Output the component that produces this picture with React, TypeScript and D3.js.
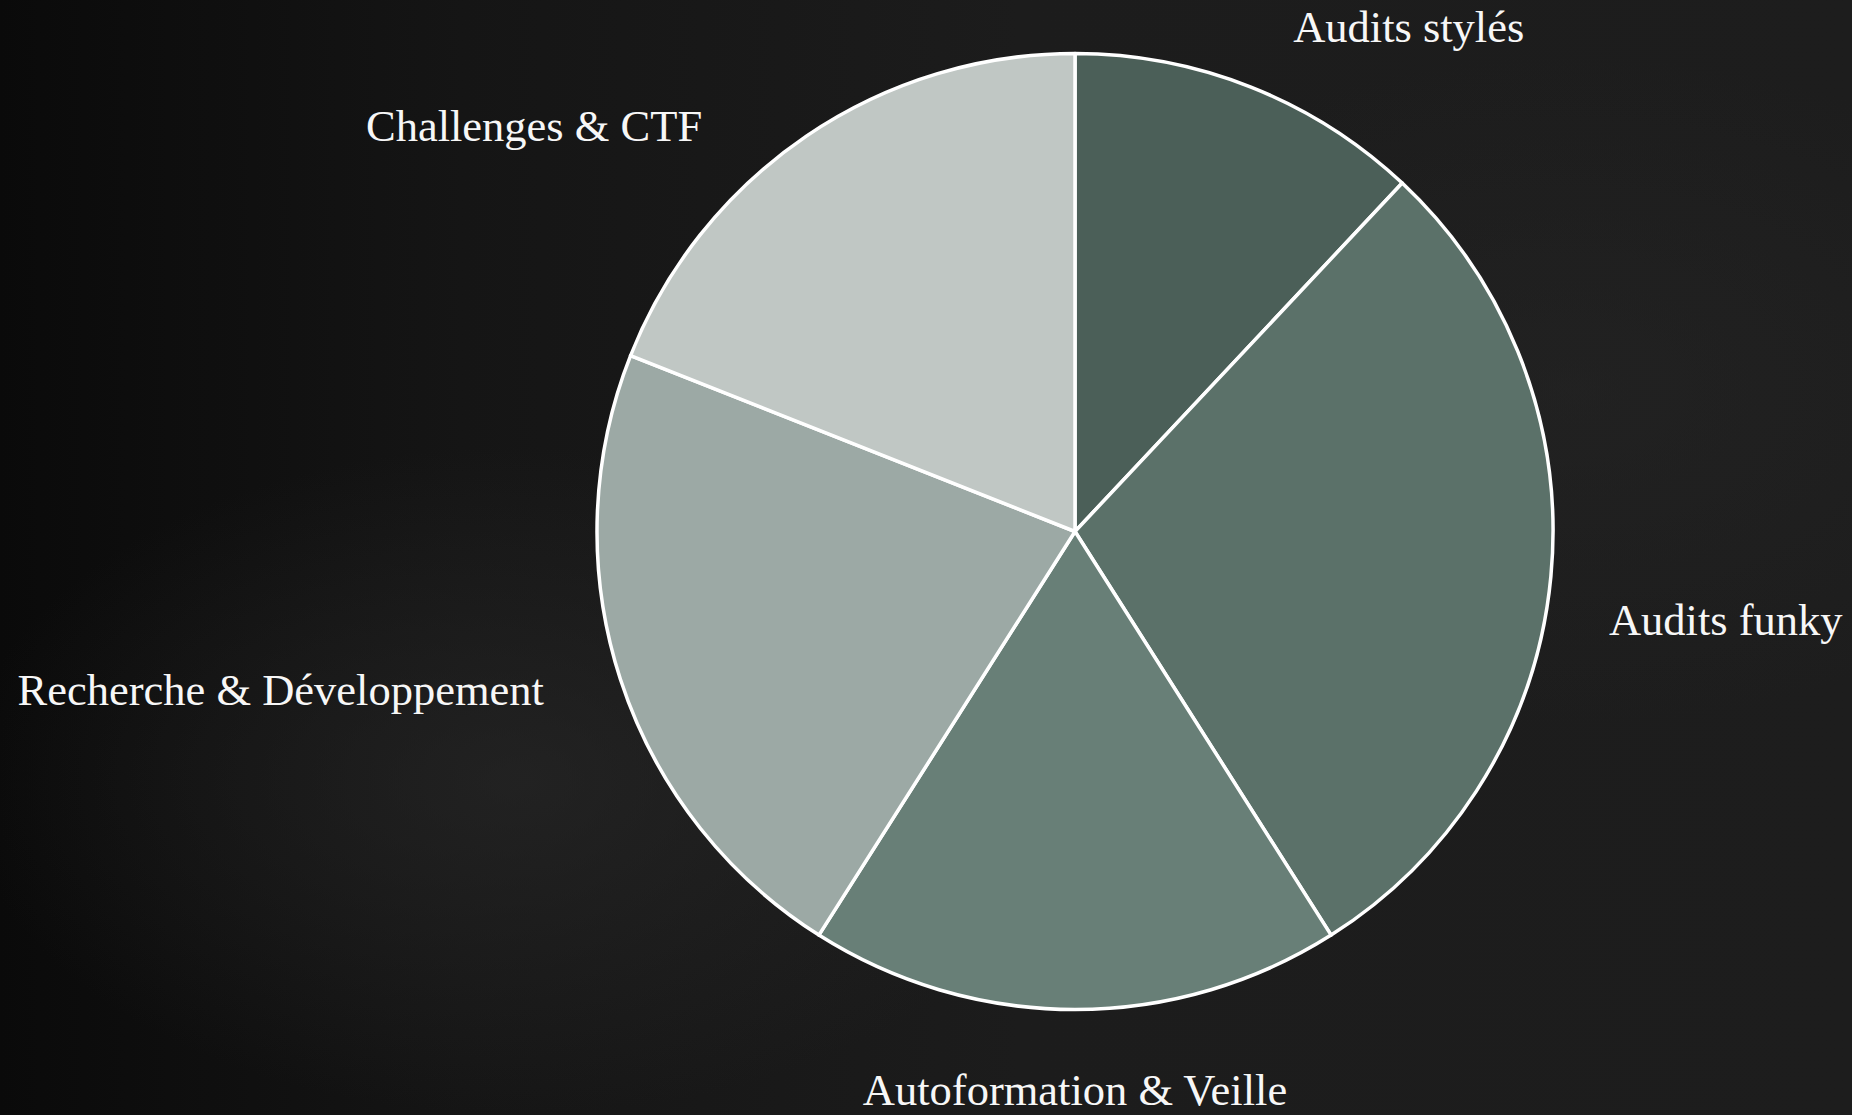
import React from "react";
import * as d3 from "d3";

const categories = [
  "Audits stylés",
  "Audits funky",
  "Autoformation & Veille",
  "Recherche & Développement",
  "Challenges & CTF",
];
const values = [12, 29, 18, 22, 19];
const colors = ["#4b5f58", "#5b7169", "#687f77", "#9ca9a5", "#c0c7c4"];

// label layout: angle nudge (deg), radius factor
const labelNudge = [2.4, 5.6, 0, -0.1, -9.5];
const labelRadius = [1.122, 1.138, 1.2, 1.169, 1.129];

const W = 1852;
const H = 1115;
const cx = 1075;
const cy = 531.5;
const R = 478;

export default function App() {
  const data = categories.map((c, i) => ({ name: c, value: values[i], color: colors[i], i }));
  const pie = d3.pie<any>().value((d) => d.value).sort(null);
  const arcs = pie(data);
  const arcGen = d3.arc<any>().innerRadius(0).outerRadius(R);

  return (
    <svg
      width={W}
      height={H}
      style={{ position: "absolute", left: 0, top: 0, display: "block" }}
    >
      <defs>
        <linearGradient id="bgLin" x1="0" y1="0" x2="1" y2="0">
          <stop offset="0" stopColor="#0a0a0a" />
          <stop offset="0.25" stopColor="#151515" />
          <stop offset="0.55" stopColor="#1c1c1c" />
          <stop offset="1" stopColor="#1d1d1d" />
        </linearGradient>
        <radialGradient id="bgRad1" cx="0.28" cy="0.7" r="0.3">
          <stop offset="0" stopColor="#2a2a2a" stopOpacity="0.6" />
          <stop offset="1" stopColor="#2a2a2a" stopOpacity="0" />
        </radialGradient>
        <radialGradient id="bgRad2" cx="0.85" cy="0.35" r="0.3">
          <stop offset="0" stopColor="#262626" stopOpacity="0.5" />
          <stop offset="1" stopColor="#262626" stopOpacity="0" />
        </radialGradient>
      </defs>
      <rect x={0} y={0} width={W} height={H} fill="url(#bgLin)" />
      <rect x={0} y={0} width={W} height={H} fill="url(#bgRad1)" />
      <rect x={0} y={0} width={W} height={H} fill="url(#bgRad2)" />
      <g transform={`translate(${cx},${cy})`}>
        {arcs.map((a, i) => (
          <path
            key={i}
            d={arcGen(a) as string}
            fill={a.data.color}
            stroke="#ffffff"
            strokeWidth={3.5}
            strokeLinejoin="round"
          />
        ))}
        {arcs.map((a, i) => {
          const mid = (a.startAngle + a.endAngle) / 2 + (labelNudge[i] * Math.PI) / 180;
          const r = R * labelRadius[i];
          const x = Math.sin(mid) * r;
          const y = -Math.cos(mid) * r;
          const s = Math.sin(mid);
          const anchor = Math.abs(s) < 0.1 ? "middle" : s > 0 ? "start" : "end";
          return (
            <text
              key={"l" + i}
              x={x}
              y={y}
              textAnchor={anchor}
              fontFamily="'Liberation Serif', 'Times New Roman', serif"
              fontSize={44.5}
              fill="#f7f7f7"
            >
              {a.data.name}
            </text>
          );
        })}
      </g>
    </svg>
  );
}
